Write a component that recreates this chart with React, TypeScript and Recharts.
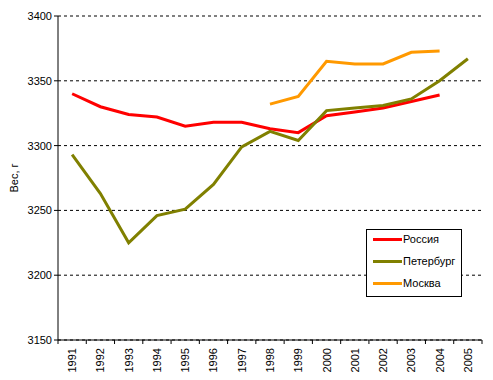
import { LineChart, Line, XAxis, YAxis, CartesianGrid } from 'recharts';

const YEARS = ['1991', '1992', '1993', '1994', '1995', '1996', '1997', '1998', '1999', '2000', '2001', '2002', '2003', '2004', '2005'];
const RUSSIA = [3340, 3330, 3324, 3322, 3315, 3318, 3318, 3313, 3310, 3323, 3326, 3329, 3334, 3339, null];
const SPB = [3293, 3263, 3225, 3246, 3251, 3270, 3299, 3311, 3304, 3327, 3329, 3331, 3336, 3350, 3367];
const MOSCOW = [null, null, null, null, null, null, null, 3332, 3338, 3365, 3363, 3363, 3372, 3373, null];
const Y_TICKS = [3150, 3200, 3250, 3300, 3350, 3400];

const SERIES = [
  { key: 'russia', name: 'Россия', color: '#FF0000' },
  { key: 'spb', name: 'Петербург', color: '#808000' },
  { key: 'moscow', name: 'Москва', color: '#FF9900' },
];

const data = YEARS.map((y, i) => ({ year: y, russia: RUSSIA[i], spb: SPB[i], moscow: MOSCOW[i] }));

const FONT = '"Liberation Sans", Arial, sans-serif';
const BAND = (482 - 58) / YEARS.length;

// ticks sit between categories, like in the original spreadsheet chart
const YearTick = (props: any) => {
  const { x, y, payload, index } = props;
  const last = index === YEARS.length - 1;
  return (
    <g>
      <line x1={x - BAND / 2} x2={x - BAND / 2} y1={y - 8} y2={y - 4} stroke="#000" />
      {last && <line x1={x + BAND / 2} x2={x + BAND / 2} y1={y - 8} y2={y - 4} stroke="#000" />}
      <text x={x} y={y} transform={`rotate(-90 ${x} ${y})`} textAnchor="end" dy={4} fontSize={11} fontFamily={FONT} fill="#000">
        {payload.value}
      </text>
    </g>
  );
};

const LegendBox = () => (
  <div style={{ position: 'absolute', left: 366, top: 229, width: 96, height: 68, border: '1px solid #000', background: '#fff', boxSizing: 'border-box', padding: '0 0 0 6px', fontFamily: FONT, fontSize: 11 }}>
    {SERIES.map((s, i) => (
      <div key={s.key} style={{ display: 'flex', alignItems: 'center', height: 22, marginTop: i === 0 ? -2 : 0 }}>
        <div style={{ width: 29, height: 3, background: s.color, marginRight: 1 }} />
        <span>{s.name}</span>
      </div>
    ))}
  </div>
);

export default function App() {
  return (
    <div style={{ position: 'absolute', left: 0, top: 0, width: 493, height: 380, background: '#fff' }}>
      <LineChart width={493} height={380} data={data} margin={{ top: 16, right: 11, left: 0, bottom: 0 }}>
        <CartesianGrid horizontal vertical={false} stroke="#000" strokeDasharray="3 3" />
        <XAxis
          dataKey="year"
          scale="band"
          height={40}
          axisLine={{ stroke: '#000' }}
          tickLine={false}
          tickSize={4}
          tickMargin={4}
          interval={0}
          tick={<YearTick />}
        />
        <YAxis
          domain={[3150, 3400]}
          ticks={Y_TICKS}
          width={58}
          axisLine={{ stroke: '#000' }}
          tickLine={{ stroke: '#000' }}
          tickSize={4}
          tick={{ fill: '#000', fontSize: 11, fontFamily: FONT }}
          label={{ value: 'Вес, г', angle: -90, position: 'insideLeft', offset: 14, style: { fill: '#000', fontSize: 11, fontFamily: FONT, textAnchor: 'middle' } }}
        />
        {SERIES.map(s => (
          <Line
            key={s.key}
            dataKey={s.key}
            name={s.name}
            stroke={s.color}
            strokeWidth={3}
            dot={false}
            type="linear"
            isAnimationActive={false}
          />
        ))}
      </LineChart>
      <LegendBox />
    </div>
  );
}
